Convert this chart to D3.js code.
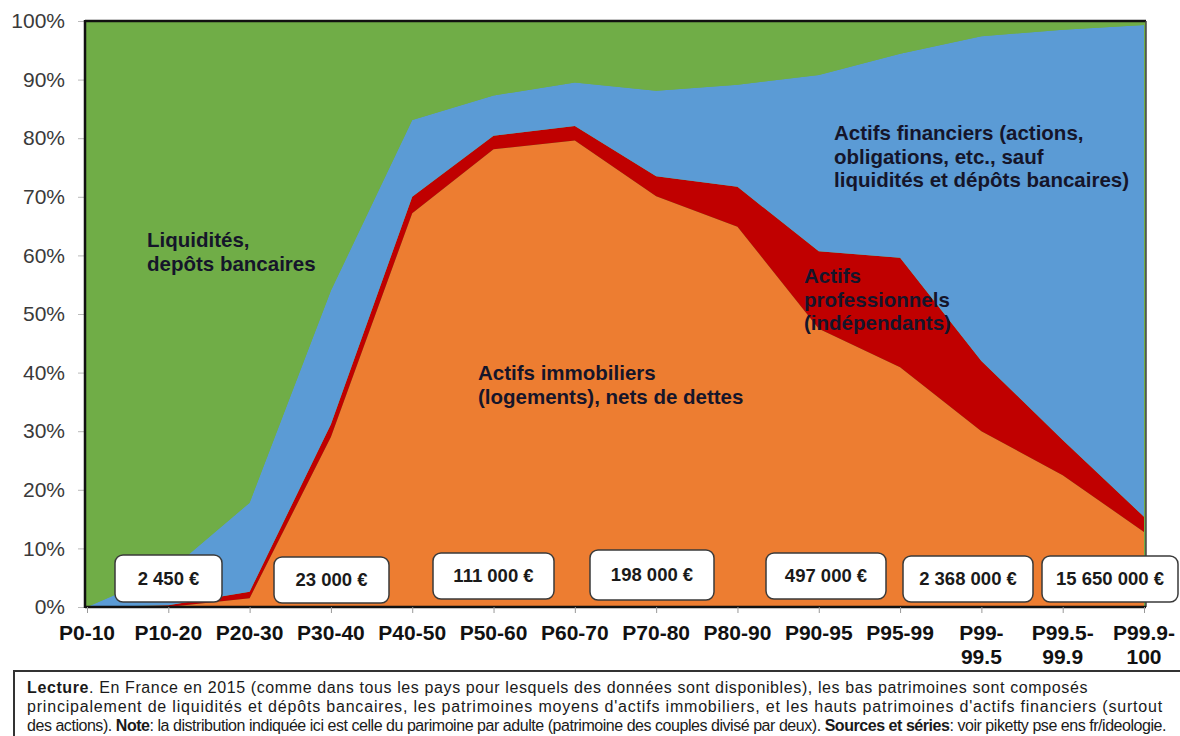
<!DOCTYPE html>
<html>
<head>
<meta charset="utf-8">
<script src="https://cdn.jsdelivr.net/npm/d3@7"></script>
<style>
  body { margin: 0; background: #fff; }
  svg { display: block; font-family: 'Liberation Sans', Arial, sans-serif; }
</style>
</head>
<body>
<div class="graph"></div>
<script>
const categories = ['P0-10', 'P10-20', 'P20-30', 'P30-40', 'P40-50', 'P50-60', 'P60-70',
  'P70-80', 'P80-90', 'P90-95', 'P95-99', 'P99-99.5', 'P99.5-99.9', 'P99.9-100'];

// shares of total wealth, in %
const immobilier = [0, 0, 1.5, 29, 67.2, 78.1, 79.6, 70.1, 64.9, 47.5, 40.9, 30.0, 22.5, 12.8];
const professionnel = [0, 0.3, 1.1, 2.2, 2.8, 2.3, 2.5, 3.4, 6.8, 13.2, 18.7, 12.0, 6.0, 2.6];
const financier = [0, 5.7, 15.2, 22.8, 13.1, 6.9, 7.4, 14.6, 17.4, 30.1, 34.8, 55.4, 70.0, 83.9];
const liquidites = [100, 94, 82.2, 46, 16.9, 12.7, 10.5, 11.9, 10.9, 9.2, 5.6, 2.6, 1.5, 0.7];

const yTicks = [0, 10, 20, 30, 40, 50, 60, 70, 80, 90, 100];

const boxLabels = ['2 450 €', '23 000 €', '111 000 €', '198 000 €', '497 000 €', '2 368 000 €', '15 650 000 €'];

const width = 1180;
const height = 736;
const margin = {top: 21, right: 34, bottom: 129, left: 85};

const color = {
  immobilier: '#ed7d31',
  professionnel: '#c00000',
  financier: '#5b9bd5',
  liquidites: '#70ad47',
  text: '#15152a',
};

const keys = ['immobilier', 'professionnel', 'financier', 'liquidites'];
const series = {immobilier, professionnel, financier, liquidites};
const table = categories.map((c, i) => {
  const row = {cat: c};
  keys.forEach(k => row[k] = series[k][i]);
  return row;
});

const svg = d3.select('.graph')
  .append('svg')
    .attr('width', width)
    .attr('height', height)
    .attr('viewBox', [0, 0, width, height]);

const x = d3.scalePoint()
  .domain(categories)
  .range([87, width - 36]);

const y = d3.scaleLinear()
  .domain([0, 100])
  .range([height - margin.bottom, margin.top]);

const stacked = d3.stack().keys(keys)(table);

const area = d3.area()
  .x(d => x(d.data.cat))
  .y0(d => y(d[0]))
  .y1(d => y(d[1]));

// green fills to the left edge and blue to the right edge
svg.append('rect')
  .attr('x', margin.left)
  .attr('y', y(100))
  .attr('width', x.range()[1] + 2 - margin.left)
  .attr('height', y(0) - y(100))
  .attr('fill', color.liquidites);

svg.selectAll('.layer')
  .data(stacked)
  .join('path')
    .attr('class', 'layer')
    .attr('fill', d => color[d.key])
    .attr('d', area);

// axes
const yAxis = svg.append('g')
  .attr('transform', `translate(${margin.left},0)`)
  .call(d3.axisLeft(y).tickValues(yTicks).tickFormat(d => d + '%').tickSize(7).tickPadding(13));
yAxis.select('.domain').remove();
yAxis.selectAll('line').attr('stroke', '#bbb');
yAxis.selectAll('text')
  .attr('fill', '#3a3a3a')
  .style('font-size', '21px');

svg.append('line')
  .attr('x1', margin.left).attr('x2', margin.left)
  .attr('y1', y(100) - 1).attr('y2', y(0) + 1)
  .attr('stroke', '#111').attr('stroke-width', 2.5);

svg.append('line')
  .attr('x1', margin.left).attr('x2', x.range()[1] + 2)
  .attr('y1', y(100)).attr('y2', y(100))
  .attr('stroke', '#111').attr('stroke-width', 2.5);

svg.append('line')
  .attr('x1', x.range()[1] + 2).attr('x2', x.range()[1] + 2)
  .attr('y1', y(100)).attr('y2', y(0))
  .attr('stroke', '#444').attr('stroke-width', 1.5);

const xAxis = svg.append('g')
  .attr('transform', `translate(0,${y(0)})`)
  .call(d3.axisBottom(x).tickSize(6).tickSizeOuter(0).tickFormat(''));
xAxis.select('.domain')
  .attr('d', `M${margin.left},0H${x.range()[1] + 2}`)
  .attr('stroke', '#111')
  .attr('stroke-width', 2.5);
xAxis.selectAll('line').attr('stroke', '#999');

const xLabels = svg.append('g')
  .selectAll('text')
  .data(categories)
  .join('text')
    .attr('x', d => x(d))
    .attr('y', 640)
    .attr('text-anchor', 'middle')
    .attr('fill', '#111')
    .style('font-size', '21px')
    .style('font-weight', 'bold');

xLabels.each(function(d) {
  const parts = d.startsWith('P99') ? [d.slice(0, d.indexOf('-') + 1), d.slice(d.indexOf('-') + 1)] : [d];
  d3.select(this).selectAll('tspan')
    .data(parts)
    .join('tspan')
      .attr('x', x(d))
      .attr('dy', (p, i) => i ? 24 : 0)
      .text(p => p);
});

// series annotations
const notes = [
  {lines: ['Liquidités,', 'depôts bancaires'], x: 147, y: 247},
  {lines: ['Actifs immobiliers', '(logements), nets de dettes'], x: 478, y: 380},
  {lines: ['Actifs financiers (actions,', 'obligations, etc., sauf', 'liquidités et dépôts bancaires)'], x: 834, y: 140},
  {lines: ['Actifs', 'professionnels', '(indépendants)'], x: 804, y: 283},
];

notes.forEach(n => {
  svg.append('text')
    .attr('x', n.x)
    .attr('y', n.y)
    .attr('fill', color.text)
    .style('font-size', '20.5px')
    .style('font-weight', 'bold')
    .selectAll('tspan')
    .data(n.lines)
    .join('tspan')
      .attr('x', n.x)
      .attr('dy', (d, i) => i ? 23.5 : 0)
      .text(d => d);
});

// average wealth boxes
const boxes = [
  [115, 555, 107, 47],
  [274, 557, 115, 46],
  [433, 553, 121, 46],
  [590, 550, 124, 50],
  [766, 553, 120, 46],
  [903, 556, 130, 46],
  [1042, 556, 136, 46],
];

const box = svg.selectAll('.box')
  .data(boxLabels)
  .join('g')
    .attr('class', 'box')
    .attr('transform', (d, i) => `translate(${boxes[i][0]},${boxes[i][1]})`);

box.append('rect')
  .attr('width', (d, i) => boxes[i][2])
  .attr('height', (d, i) => boxes[i][3])
  .attr('rx', 8)
  .attr('fill', '#fff')
  .attr('stroke', '#3a3a3a')
  .attr('stroke-width', 1.5);

box.append('text')
  .attr('x', (d, i) => boxes[i][2] / 2)
  .attr('y', (d, i) => boxes[i][3] / 2 + 6)
  .attr('text-anchor', 'middle')
  .attr('fill', '#1a1a1a')
  .style('font-size', '18.5px')
  .style('font-weight', 'bold')
  .text(d => d);

// reading note
svg.append('rect')
  .attr('x', 14)
  .attr('y', 671)
  .attr('width', 1200)
  .attr('height', 100)
  .attr('fill', 'none')
  .attr('stroke', '#333')
  .attr('stroke-width', 2);

const noteLines = [
  {len: 1061, parts: [['Lecture', true], ['. En France en 2015 (comme dans tous les pays pour lesquels des données sont disponibles), les bas patrimoines sont composés', false]]},
  {len: 1136, parts: [['principalement de liquidités et dépôts bancaires, les patrimoines moyens d\'actifs immobiliers, et les hauts patrimoines d\'actifs financiers (surtout', false]]},
  {len: 1139, parts: [['des actions). ', false], ['Note', true], [': la distribution indiquée ici est celle du parimoine par adulte (patrimoine des couples divisé par deux). ', false], ['Sources et séries', true], [': voir piketty pse ens fr/ideologie.', false]]},
];

// spread or tighten the letters so each line spans the width seen in the reference
noteLines.forEach((l, i) => {
  const t = svg.append('text')
    .attr('x', 27)
    .attr('y', 693 + i * 19)
    .attr('fill', '#1a1a1a')
    .style('font-size', '16px');
  t.selectAll('tspan')
    .data(l.parts)
    .join('tspan')
      .style('font-weight', d => d[1] ? 'bold' : 'normal')
      .text(d => d[0]);
  const w = t.node().getComputedTextLength();
  const n = l.parts.map(p => p[0]).join('').length;
  t.style('letter-spacing', ((l.len - w) / n) + 'px');
});
</script>
</body>
</html>
